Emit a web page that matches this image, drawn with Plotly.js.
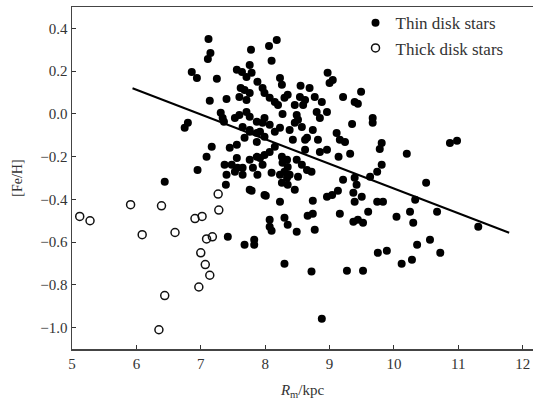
<!DOCTYPE html>
<html>
<head>
<meta charset="utf-8">
<script src="https://cdn.plot.ly/plotly-3.0.1.min.js"></script>
<style>html,body{margin:0;padding:0;background:#fff;}#chart{width:533px;height:404px;}</style>
</head>
<body>
<div id="chart"></div>
<script>
// Thin disk stars (filled circles)
var thinR = [7.12,7.15,7.11,6.86,6.94,7.25,7.78,7.76,7.56,7.64,7.71,7.79,8.06,8.18,8.10,7.88,7.62,7.68,7.76,7.60,
  7.71,7.14,7.40,7.96,7.99,8.07,8.15,8.20,7.31,7.34,7.53,7.60,7.71,7.76,7.87,7.96,7.99,6.80,6.75,7.36,
  7.65,7.76,7.87,8.23,8.26,8.55,8.69,8.97,9.05,9.00,8.35,8.30,8.54,8.62,8.59,8.46,8.77,8.88,9.21,9.49,
  9.39,9.44,8.27,8.49,8.51,8.46,8.80,8.85,8.96,9.35,9.67,9.67,8.57,8.74,8.65,9.11,9.16,9.24,9.81,9.78,
  8.43,8.62,8.82,8.62,8.85,8.96,9.14,9.32,8.26,8.34,8.27,8.35,8.30,8.23,8.38,8.34,8.26,8.35,8.46,8.49,
  8.57,8.65,8.72,8.51,9.21,9.39,9.42,9.63,9.74,9.81,8.23,8.74,8.96,9.04,9.13,9.37,9.39,9.50,9.74,9.83,
  8.30,8.35,8.66,8.74,9.16,9.60,9.37,9.44,9.52,10.04,8.49,8.77,10.87,10.98,10.20,10.50,10.33,10.67,10.25,10.30,
  11.31,10.56,10.36,9.75,9.89,10.72,10.12,10.28,8.30,8.72,9.27,9.52,8.88,7.83,7.83,8.07,8.07,7.76,7.99,7.42,
  7.68,8.10,7.17,7.09,6.95,6.44,7.39,7.40,7.37,7.48,7.56,7.57,7.53,7.65,7.65,7.76,7.81,7.87,7.92,7.96,
  7.99,7.88,8.10,7.79,8.01,8.15,8.07,7.68,7.76,7.87,7.92,7.99,8.07,8.15,8.23,8.38,7.45,7.56];
var thinFeH = [0.35,0.285,0.257,0.196,0.168,0.164,0.30,0.229,0.206,0.196,0.173,0.192,0.318,0.346,0.248,0.150,0.121,0.112,0.098,0.079,
  0.065,0.061,0.070,0.121,0.098,0.075,0.056,0.042,0.005,-0.019,-0.019,-0.005,0.009,-0.014,-0.037,-0.042,-0.019,-0.042,-0.065,-0.037,
  -0.061,-0.075,-0.089,0.168,0.136,0.131,0.121,0.192,0.159,0.145,0.089,0.075,0.079,0.065,0.042,0.042,0.079,0.056,0.079,0.103,
  0.056,0.047,0.0,-0.005,-0.028,-0.042,0.009,-0.019,0.009,-0.047,-0.019,-0.042,-0.061,-0.075,-0.112,-0.089,-0.121,-0.131,-0.136,-0.164,
  -0.121,-0.121,-0.121,-0.168,-0.178,-0.168,-0.201,-0.187,-0.201,-0.215,-0.229,-0.248,-0.271,-0.285,-0.285,-0.299,-0.322,-0.332,-0.355,-0.215,
  -0.238,-0.262,-0.271,-0.294,-0.308,-0.299,-0.332,-0.294,-0.271,-0.238,-0.411,-0.407,-0.388,-0.379,-0.360,-0.369,-0.411,-0.388,-0.411,-0.411,
  -0.486,-0.519,-0.477,-0.467,-0.467,-0.458,-0.505,-0.495,-0.509,-0.481,-0.551,-0.542,-0.136,-0.126,-0.187,-0.322,-0.402,-0.458,-0.458,-0.509,
  -0.528,-0.589,-0.612,-0.650,-0.640,-0.650,-0.701,-0.682,-0.701,-0.738,-0.734,-0.734,-0.958,-0.589,-0.612,-0.495,-0.528,-0.355,-0.379,-0.575,
  -0.612,-0.547,-0.154,-0.201,-0.262,-0.318,-0.332,-0.285,-0.238,-0.238,-0.206,-0.252,-0.271,-0.252,-0.285,-0.215,-0.252,-0.201,-0.206,-0.238,
  -0.192,-0.285,-0.276,-0.360,-0.383,-0.154,-0.178,-0.112,-0.084,-0.131,-0.084,-0.107,-0.051,-0.084,-0.065,-0.075,-0.159,-0.145];

// Thick disk stars (open circles)
var thickR = [5.12,5.28,5.91,6.09,6.39,6.60,6.91,7.02,7.27,7.28,7.09,7.18,7.00,7.07,7.14,6.97,6.44,6.35];
var thickFeH = [-0.48,-0.50,-0.425,-0.565,-0.43,-0.555,-0.49,-0.48,-0.375,-0.45,-0.585,-0.575,-0.65,-0.705,-0.755,-0.81,-0.85,-1.01];

// Linear fit line
var fitR = [5.94, 11.79];
var fitFeH = [0.12, -0.556];

var serif = "Liberation Serif";

var traces = [
  {x: thinR, y: thinFeH, type: 'scatter', mode: 'markers', name: 'Thin disk stars',
   marker: {symbol: 'circle', size: 8, color: '#000'}},
  {x: thickR, y: thickFeH, type: 'scatter', mode: 'markers', name: 'Thick disk stars',
   marker: {symbol: 'circle-open', size: 8, color: '#111', line: {width: 1.5, color: '#111'}}},
  {x: fitR, y: fitFeH, type: 'scatter', mode: 'lines', showlegend: false,
   line: {color: '#000', width: 2}}
];

var layout = {
  width: 533, height: 404,
  margin: {l: 72, r: 0, t: 7, b: 55},
  paper_bgcolor: '#fff', plot_bgcolor: '#fff',
  font: {family: serif, size: 14, color: '#333'},
  showlegend: true,
  legend: {x: 0.615, y: 1.005, xanchor: 'left', yanchor: 'top', bgcolor: 'rgba(0,0,0,0)',
           itemwidth: 30, tracegroupgap: 0,
           font: {family: serif, size: 17, color: '#333'}},
  xaxis: {range: [5, 12.16], tickvals: [5,6,7,8,9,10,11,12], ticks: 'inside', ticklen: 4,
          tickcolor: '#333', showline: true, linecolor: '#444', linewidth: 1.5, mirror: true,
          showgrid: false, zeroline: false, tickfont: {family: serif, size: 15, color: '#333'},
          title: {text: '<i>R</i><sub>m</sub>/kpc', font: {family: serif, size: 15, color: '#333'}, standoff: 14}},
  yaxis: {range: [-1.1, 0.5], tickvals: [-1.0,-0.8,-0.6,-0.4,-0.2,0.0,0.2,0.4], tickformat: '.1f',
          ticks: 'inside', ticklen: 4, tickcolor: '#333', showline: true, linecolor: '#444', linewidth: 1.5,
          showgrid: false, zeroline: false, tickfont: {family: serif, size: 15, color: '#333'},
          title: {text: '[Fe/H]', font: {family: serif, size: 14, color: '#333'}, standoff: 14}}
};

Plotly.newPlot('chart', traces, layout, {displayModeBar: false, staticPlot: true});
</script>
</body>
</html>
